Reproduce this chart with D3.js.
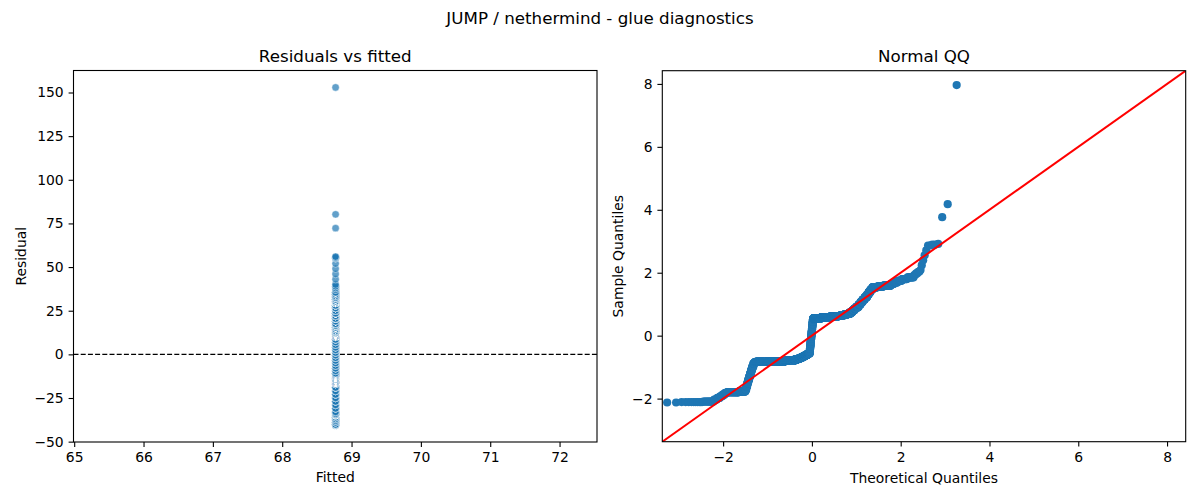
<!DOCTYPE html>
<html>
<head>
<meta charset="utf-8">
<script src="https://cdn.jsdelivr.net/npm/d3@7"></script>
<style>
  html, body { margin: 0; padding: 0; background: #fff; }
  svg { display: block; font-family: "DejaVu Sans", sans-serif; }
</style>
</head>
<body>
<svg id="chart" width="1200" height="500"></svg>
<script>
// ---------------- data ----------------
const figureTitle = "JUMP / nethermind - glue diagnostics";
const leftTitle = "Residuals vs fitted";
const rightTitle = "Normal QQ";

// intercept-only model: every observation has the same fitted value
const fittedValue = 68.77;

// distinct residual levels and how many observations sit at each
const residualLevels = [
  -40.8, -40.5, -40.2,
  -39, -38, -37, -36, -35,
  -34.5, -34,
  -33, -31, -29, -27, -25, -23, -21, -19, -17, -16.3,
  -16, -15.7, -15.4,
  -14.8, -14.3, -13.8, -13.2,
  -12.6, -12, -11.4, -10.8,
  -9.5, -8, -6.5, -5, -3.5, -2, -0.5, 1, 2.5, 4, 5.5, 7, 8.5, 10,
  10.5, 11, 11.5,
  12, 12.5, 13, 13.5,
  14.5, 15.5, 16.5, 17.5,
  19, 20.5, 22, 23.5,
  25, 26.5, 28,
  29.5, 30, 30.5,
  31.5, 32.5, 33.5, 34.5, 35.5,
  37, 38, 39, 40,
  43, 46, 49, 52,
  55, 55.5, 56,
  72.3, 80.2, 152.9
];
const residualCounts = [
  2, 10, 12,
  5, 5, 5, 5, 6,
  40, 30,
  5, 5, 5, 6, 6, 6, 7, 8, 8, 8,
  150, 150, 130,
  40, 36, 36, 32,
  30, 28, 26, 22,
  4, 4, 4, 4, 4, 4, 4, 4, 4, 4, 4, 4, 5, 5,
  120, 130, 117,
  50, 45, 40, 31,
  20, 20, 20, 21,
  18, 18, 18, 17,
  12, 12, 13,
  30, 30, 28,
  10, 10, 10, 10, 9,
  2, 2, 2, 1,
  1, 1, 1, 1,
  2, 2, 1,
  1, 1, 1
];
// residual standard deviation used to standardise the QQ sample
const residualScale = 19.2;

// tick labels
const leftXTicks = [65, 66, 67, 68, 69, 70, 71, 72];
const leftYTicks = [-50, -25, 0, 25, 50, 75, 100, 125, 150];
const qqXTicks = [-2, 0, 2, 4, 6, 8];
const qqYTicks = [-2, 0, 2, 4, 6, 8];

// ---------------- helpers ----------------
function normInv(p) {
  // Acklam's rational approximation of the standard normal quantile
  const a = [-3.969683028665376e+01, 2.209460984245205e+02, -2.759285104469687e+02,
             1.383577518672690e+02, -3.066479806614716e+01, 2.506628277459239e+00];
  const b = [-5.447609879822406e+01, 1.615858368580409e+02, -1.556989798598866e+02,
             6.680131188771972e+01, -1.328068155288572e+01];
  const c = [-7.784894002430293e-03, -3.223964580411365e-01, -2.400758277161838e+00,
             -2.549732539343734e+00, 4.374664141464968e+00, 2.938163982698783e+00];
  const d = [7.784695709041462e-03, 3.224671290700398e-01, 2.445134137142996e+00,
             3.754408661907416e+00];
  const pl = 0.02425, ph = 1 - pl;
  let q, r;
  if (p < pl) {
    q = Math.sqrt(-2 * Math.log(p));
    return (((((c[0]*q+c[1])*q+c[2])*q+c[3])*q+c[4])*q+c[5]) / ((((d[0]*q+d[1])*q+d[2])*q+d[3])*q+1);
  } else if (p <= ph) {
    q = p - 0.5; r = q * q;
    return (((((a[0]*r+a[1])*r+a[2])*r+a[3])*r+a[4])*r+a[5])*q / (((((b[0]*r+b[1])*r+b[2])*r+b[3])*r+b[4])*r+1);
  } else {
    q = Math.sqrt(-2 * Math.log(1 - p));
    return -(((((c[0]*q+c[1])*q+c[2])*q+c[3])*q+c[4])*q+c[5]) / ((((d[0]*q+d[1])*q+d[2])*q+d[3])*q+1);
  }
}

// expand the frequency table into observations
const residuals = [];
residualLevels.forEach((v, i) => { for (let k = 0; k < residualCounts[i]; k++) residuals.push(v); });
const n = residuals.length;
const sortedStd = residuals.slice().sort((a, b) => a - b).map(v => v / residualScale);
const qqPoints = sortedStd.map((s, i) => ({ t: normInv((i + 1) / (n + 1)), s }));

// ---------------- drawing ----------------
const svg = d3.select("#chart");
svg.append("rect").attr("width", 1200).attr("height", 500).attr("fill", "#fff");

const TICK_FS = "13.9px";
const LABEL_FS = "13.9px";
const TITLE_FS = "16.7px";

svg.append("text").attr("x", 600).attr("y", 24).attr("text-anchor", "middle")
  .attr("font-size", TITLE_FS).attr("fill", "#000").text(figureTitle);

function styleAxis(g) {
  g.selectAll("text").attr("font-size", TICK_FS).attr("fill", "#000")
    .attr("font-family", "DejaVu Sans, sans-serif");
  g.selectAll("line").attr("stroke", "#000").attr("stroke-width", 1.1);
  g.select(".domain").remove();
}

function panel(cfg) {
  const { x0, x1, y0, y1 } = cfg.box;
  const g = svg.append("g");
  const clipId = cfg.id + "-clip";
  svg.append("clipPath").attr("id", clipId).append("rect")
    .attr("x", x0).attr("y", y0).attr("width", x1 - x0).attr("height", y1 - y0);

  const xs = d3.scaleLinear().domain(cfg.xDomain).range([x0, x1]);
  const ys = d3.scaleLinear().domain(cfg.yDomain).range([y1, y0]);

  const plot = g.append("g").attr("clip-path", `url(#${clipId})`);
  cfg.draw(plot, xs, ys);

  // frame
  g.append("rect").attr("x", x0).attr("y", y0).attr("width", x1 - x0).attr("height", y1 - y0)
    .attr("fill", "none").attr("stroke", "#000").attr("stroke-width", 1.1);

  const fmt = d3.format("");
  g.append("g").attr("transform", `translate(0,${y1})`)
    .call(d3.axisBottom(xs).tickValues(cfg.xTicks).tickFormat(fmt).tickSize(4.9).tickSizeOuter(0).tickPadding(5.2))
    .call(styleAxis);
  g.append("g").attr("transform", `translate(${x0},0)`)
    .call(d3.axisLeft(ys).tickValues(cfg.yTicks).tickFormat(fmt).tickSize(4.9).tickSizeOuter(0).tickPadding(4.9))
    .call(styleAxis);

  g.append("text").attr("x", (x0 + x1) / 2).attr("y", y0 - 8.5).attr("text-anchor", "middle")
    .attr("font-size", TITLE_FS).attr("fill", "#000").text(cfg.title);
  g.append("text").attr("x", (x0 + x1) / 2).attr("y", cfg.xLabelY).attr("text-anchor", "middle")
    .attr("font-size", LABEL_FS).attr("fill", "#000").text(cfg.xLabel);
  g.append("text").attr("transform", `translate(${cfg.yLabelX},${(y0 + y1) / 2}) rotate(-90)`)
    .attr("text-anchor", "middle").attr("font-size", LABEL_FS).attr("fill", "#000").text(cfg.yLabel);
}

panel({
  id: "left",
  box: { x0: 73.5, x1: 597, y0: 70.5, y1: 442 },
  xDomain: [64.99, 72.54],
  yDomain: [-50.2, 162.6],
  xTicks: leftXTicks, yTicks: leftYTicks,
  title: leftTitle, xLabel: "Fitted", yLabel: "Residual",
  xLabelY: 482, yLabelX: 26,
  draw: (plot, xs, ys) => {
    plot.append("line").attr("x1", xs.range()[0]).attr("x2", xs.range()[1])
      .attr("y1", ys(0)).attr("y2", ys(0))
      .attr("stroke", "#000").attr("stroke-width", 1.2).attr("stroke-dasharray", "5,2.2");
    plot.selectAll("circle").data(residuals).join("circle")
      .attr("cx", xs(fittedValue)).attr("cy", d => ys(d)).attr("r", 3.7)
      .attr("fill", "#1f77b4").attr("fill-opacity", 0.7)
      .attr("stroke", "#fff").attr("stroke-width", 0.6).attr("stroke-opacity", 0.7);
  }
});

panel({
  id: "right",
  box: { x0: 662.3, x1: 1185.7, y0: 70.7, y1: 441.7 },
  xDomain: [-3.37, 8.42],
  yDomain: [-3.37, 8.42],
  xTicks: qqXTicks, yTicks: qqYTicks,
  title: rightTitle, xLabel: "Theoretical Quantiles", yLabel: "Sample Quantiles",
  xLabelY: 483, yLabelX: 623,
  draw: (plot, xs, ys) => {
    plot.selectAll("circle").data(qqPoints).join("circle")
      .attr("cx", d => xs(d.t)).attr("cy", d => ys(d.s)).attr("r", 4.1)
      .attr("fill", "#1f77b4");
    const lim = xs.domain();
    plot.append("line").attr("x1", xs(lim[0])).attr("y1", ys(lim[0]))
      .attr("x2", xs(lim[1])).attr("y2", ys(lim[1]))
      .attr("stroke", "#ff0000").attr("stroke-width", 2);
  }
});
</script>
</body>
</html>
